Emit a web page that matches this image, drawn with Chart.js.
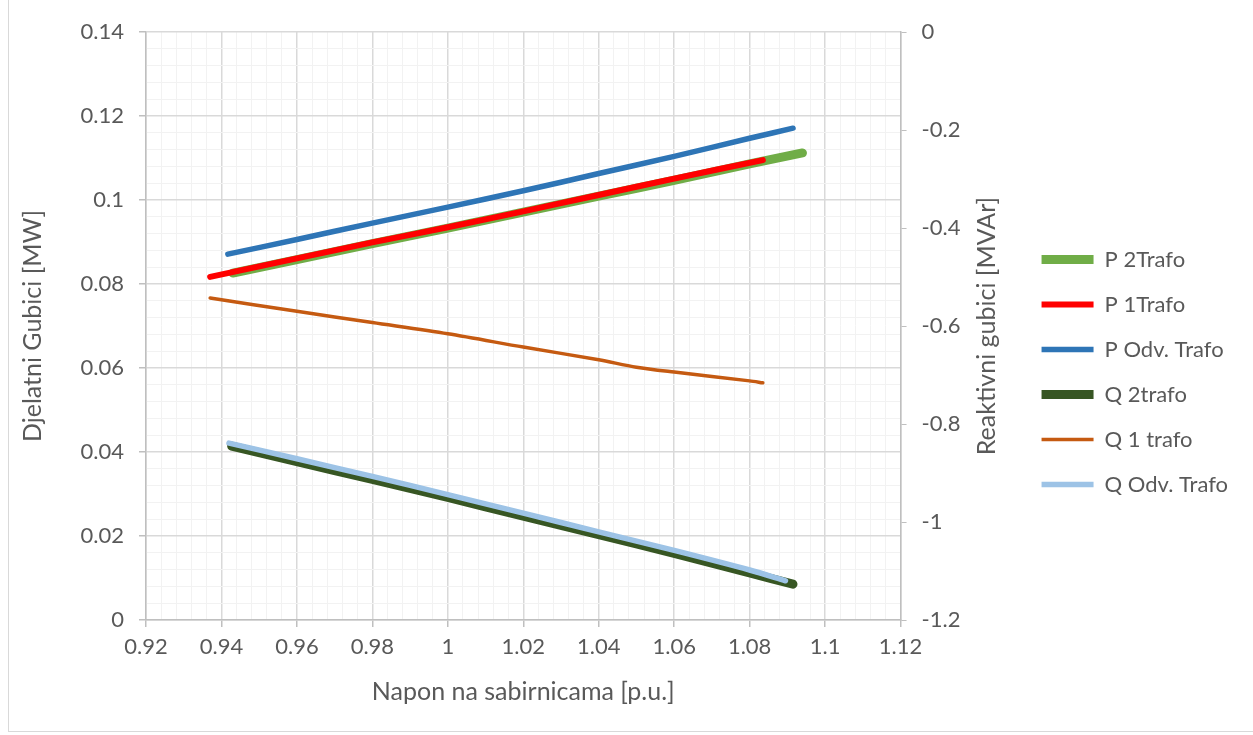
<!DOCTYPE html>
<html>
<head>
<meta charset="utf-8">
<script src="https://cdn.jsdelivr.net/npm/chart.js@4.4.1/dist/chart.umd.min.js"></script>
<style>
  html, body { margin: 0; padding: 0; background: #fff; }
  #wrap { position: relative; width: 1253px; height: 735px; overflow: hidden; }
  #frame { position: absolute; left: 8px; top: -2px; width: 1260px; height: 734px; border: 1px solid #d9d9d9; box-sizing: border-box; }
  canvas { position: absolute; left: 0; top: 0; }
</style>
</head>
<body>
<div id="wrap">
  <div id="frame"></div>
  <canvas id="chart" width="1253" height="735"></canvas>
</div>
<script>
// Series (x = voltage in p.u.)
const p2TrafoX = [0.943, 0.96, 0.98, 1.0, 1.02, 1.04, 1.06, 1.08, 1.094];
const p2TrafoY = [0.0826, 0.0858, 0.0896, 0.0933, 0.0971, 0.1009, 0.1047, 0.1086, 0.1112];

const p1TrafoX = [0.937, 0.96, 0.98, 1.0, 1.02, 1.04, 1.06, 1.0835];
const p1TrafoY = [0.0817, 0.0861, 0.0899, 0.0935, 0.0973, 0.1012, 0.1051, 0.1095];

const pOdvX = [0.9417, 0.96, 0.98, 1.0, 1.02, 1.04, 1.06, 1.08, 1.0915];
const pOdvY = [0.0871, 0.0906, 0.0945, 0.0983, 0.1022, 0.1063, 0.1104, 0.1147, 0.1171];

const q2TrafoX = [0.9427, 0.96, 0.98, 1.0, 1.02, 1.04, 1.06, 1.08, 1.0915];
const q2TrafoY = [-0.845, -0.877, -0.913, -0.950, -0.988, -1.026, -1.064, -1.104, -1.127];

const q1TrafoX = [0.937, 0.96, 0.98, 1.0, 1.02, 1.04, 1.05, 1.06, 1.08, 1.0835];
const q1TrafoY = [-0.543, -0.570, -0.593, -0.616, -0.643, -0.669, -0.684, -0.694, -0.712, -0.716];

const qOdvX = [0.942, 0.96, 0.98, 1.0, 1.02, 1.04, 1.06, 1.08, 1.0895];
const qOdvY = [-0.839, -0.871, -0.907, -0.944, -0.982, -1.020, -1.058, -1.098, -1.120];

const seriesNames = ['P 2Trafo', 'P 1Trafo', 'P Odv. Trafo', 'Q 2trafo', 'Q 1 trafo', 'Q Odv. Trafo'];

const textColor = '#595959';
const fontFamily = 'Lato, "Open Sans", sans-serif';

function toPoints(xs, ys) {
    return xs.map((x, i) => ({ x: x, y: ys[i] }));
}

function isMajor(v, step) {
    return Math.abs(v / step - Math.round(v / step)) < 1e-6;
}

function fmt(v) {
    return String(Number(v.toFixed(2)));
}

function makeSet(label, xs, ys, color, width, axis, order) {
    return {
        label: label,
        data: toPoints(xs, ys),
        borderColor: color,
        backgroundColor: color,
        borderWidth: width,
        borderCapStyle: 'round',
        borderJoinStyle: 'round',
        showLine: true,
        pointRadius: 0,
        pointHoverRadius: 0,
        tension: 0.3,
        yAxisID: axis,
        order: order
    };
}

// Right axis title is drawn rotated bottom-to-top like the original
const rightTitle = {
    id: 'rightTitle',
    afterDraw(chart) {
        const ctx = chart.ctx;
        const area = chart.chartArea;
        ctx.save();
        ctx.translate(area.right + 86, (area.top + area.bottom) / 2);
        ctx.rotate(-Math.PI / 2);
        ctx.font = '25px ' + fontFamily;
        ctx.fillStyle = textColor;
        ctx.textAlign = 'center';
        ctx.textBaseline = 'middle';
        ctx.fillText('Reaktivni gubici [MVAr]', 0, 0);
        ctx.restore();
    }
};

const ctx = document.getElementById('chart');

new Chart(ctx, {
    type: 'scatter',
    data: {
        datasets: [
            makeSet(seriesNames[0], p2TrafoX, p2TrafoY, '#70ad47', 9, 'y', 6),
            makeSet(seriesNames[1], p1TrafoX, p1TrafoY, '#ff0000', 6, 'y', 5),
            makeSet(seriesNames[2], pOdvX, pOdvY, '#2e75b6', 5.5, 'y', 4),
            makeSet(seriesNames[3], q2TrafoX, q2TrafoY, '#375623', 9, 'y2', 3),
            makeSet(seriesNames[4], q1TrafoX, q1TrafoY, '#c55a11', 3.5, 'y2', 2),
            makeSet(seriesNames[5], qOdvX, qOdvY, '#9dc3e6', 5.5, 'y2', 1)
        ]
    },
    options: {
        responsive: false,
        animation: false,
        devicePixelRatio: 1,
        layout: { padding: { top: 32, right: 15, bottom: 23, left: 0 } },
        plugins: {
            tooltip: { enabled: false },
            legend: {
                position: 'right',
                align: 'center',
                maxWidth: 240,
                labels: {
                    usePointStyle: true,
                    pointStyle: 'line',
                    pointStyleWidth: 52,
                    padding: 23,
                    color: textColor,
                    font: { family: fontFamily, size: 22 },
                    sort: (a, b) => a.datasetIndex - b.datasetIndex
                }
            }
        },
        scales: {
            x: {
                type: 'linear',
                min: 0.92,
                max: 1.12,
                afterFit: (scale) => { scale.height = 92; },
                ticks: {
                    stepSize: 0.004,
                    autoSkip: false,
                    maxRotation: 0,
                    padding: 7,
                    color: textColor,
                    font: { family: fontFamily, size: 22 },
                    callback: (v) => isMajor(v, 0.02) ? fmt(v) : ''
                },
                grid: {
                    color: (c) => isMajor(c.tick.value, 0.02) ? '#d9d9d9' : '#f2f2f2',
                    lineWidth: (c) => isMajor(c.tick.value, 0.02) ? 1.5 : 1,
                    tickColor: (c) => isMajor(c.tick.value, 0.02) ? '#bfbfbf' : 'rgba(0,0,0,0)',
                    tickLength: 7
                },
                border: { color: '#bfbfbf', width: 1.5 },
                title: {
                    display: true,
                    text: 'Napon na sabirnicama [p.u.]',
                    color: textColor,
                    font: { family: fontFamily, size: 25 },
                    padding: { top: 0, bottom: 5 }
                }
            },
            y: {
                type: 'linear',
                position: 'left',
                min: 0,
                max: 0.14,
                afterFit: (scale) => { scale.width = 146; },
                ticks: {
                    stepSize: 0.004,
                    autoSkip: false,
                    padding: 15,
                    color: textColor,
                    font: { family: fontFamily, size: 22 },
                    callback: (v) => isMajor(v, 0.02) ? fmt(v) : ''
                },
                grid: {
                    color: (c) => isMajor(c.tick.value, 0.02) ? '#d9d9d9' : '#f2f2f2',
                    lineWidth: (c) => isMajor(c.tick.value, 0.02) ? 1.5 : 1,
                    tickColor: (c) => isMajor(c.tick.value, 0.02) ? '#bfbfbf' : 'rgba(0,0,0,0)',
                    tickLength: 7
                },
                border: { color: '#bfbfbf', width: 1.5 },
                title: {
                    display: true,
                    text: 'Djelatni Gubici [MW]',
                    color: textColor,
                    font: { family: fontFamily, size: 25 },
                    padding: { top: 18, bottom: 0 }
                }
            },
            y2: {
                type: 'linear',
                position: 'right',
                min: -1.2,
                max: 0,
                afterFit: (scale) => { scale.width = 118; },
                ticks: {
                    stepSize: 0.2,
                    padding: 15,
                    color: textColor,
                    font: { family: fontFamily, size: 22 },
                    callback: (v) => fmt(v)
                },
                grid: {
                    drawOnChartArea: false,
                    tickColor: '#bfbfbf',
                    tickLength: 6
                },
                border: { color: '#bfbfbf', width: 1.5 }
            }
        }
    },
    plugins: [rightTitle]
});
</script>
</body>
</html>
